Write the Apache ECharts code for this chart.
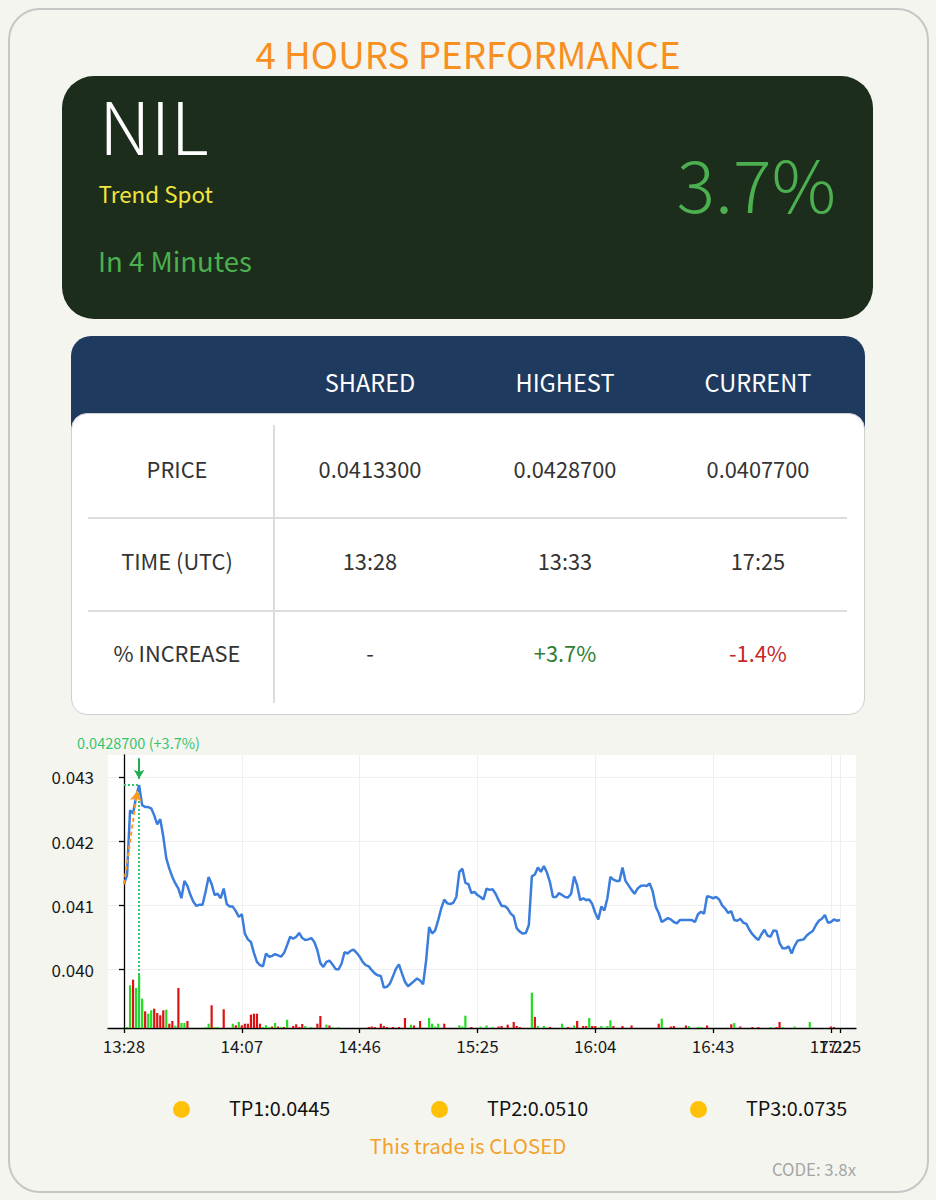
<!DOCTYPE html>
<html><head><meta charset="utf-8">
<script src="https://cdn.jsdelivr.net/npm/echarts@6/dist/echarts.min.js"></script>
<style>
html,body{margin:0;padding:0;background:#f5f5f0;}
body{width:936px;height:1200px;position:relative;overflow:hidden;font-family:"Noto Sans CJK SC","Noto Sans",sans-serif;}
.abs{position:absolute;line-height:1;white-space:nowrap;}
.box{position:absolute;box-sizing:border-box;}
#chart{position:absolute;left:0;top:0;width:936px;height:1200px;z-index:5;}
</style></head>
<body>
<div class="box" style="left:8px;top:8px;width:921px;height:1185px;border:2px solid #c6c6c6;border-radius:32px;background:#f5f5f0;"></div>
<div class="box" style="left:62px;top:76px;width:811px;height:243px;border-radius:32px;background:#1c2d1b;"></div>
<div class="box" style="left:71px;top:336px;width:794px;height:95px;border-radius:20px 20px 0 0;background:#1f3a5f;"></div>
<div class="box" style="left:71px;top:413px;width:794px;height:302px;border-radius:16px;background:#fff;border:1px solid #cfcfcf;"></div>
<div class="box" style="left:273px;top:425px;width:1.5px;height:278px;background:#dcdcdc;"></div>
<div class="box" style="left:88px;top:517px;width:759px;height:1.5px;background:#dcdcdc;"></div>
<div class="box" style="left:88px;top:610px;width:759px;height:1.5px;background:#dcdcdc;"></div>
<div class="box" style="left:108px;top:755px;width:748px;height:273px;background:#fff;z-index:2;"></div>
<div id="chart"></div>
<script>
// ---------- data ----------
const titleText = '4 HOURS PERFORMANCE';
const symbolName = 'NIL';
const subTitle = 'Trend Spot';
const durationText = 'In 4 Minutes';
const bigPercent = '3.7%';
const headerCols = ['SHARED', 'HIGHEST', 'CURRENT'];
const rowLabels = ['PRICE', 'TIME (UTC)', '% INCREASE'];
const priceRow = ['0.0413300', '0.0428700', '0.0407700'];
const timeRow = ['13:28', '13:33', '17:25'];
const pctRow = ['-', '+3.7%', '-1.4%'];
const tpLabels = ['TP1:0.0445', 'TP2:0.0510', 'TP3:0.0735'];
const statusText = 'This trade is CLOSED';
const codeText = 'CODE: 3.8x';
const peakLabel = '0.0428700 (+3.7%)';

const startTime = '13:28';
// price per minute from 13:28 to 17:25
const prices = [
0.04133,0.04147,0.04248,0.04243,0.04269,0.04287,0.04256,0.04253,0.04253,0.04251,
0.04240,0.04226,0.04234,0.04207,0.04173,0.04157,0.04144,0.04134,0.04126,0.04111,
0.04138,0.04130,0.04116,0.04105,0.04099,0.04101,0.04101,0.04121,0.04144,0.04133,
0.04116,0.04118,0.04111,0.04126,0.04102,0.04098,0.04098,0.04091,0.04082,0.04086,
0.04056,0.04047,0.04043,0.04026,0.04012,0.04007,0.04005,0.04025,0.04020,0.04021,
0.04024,0.04022,0.04020,0.04026,0.04038,0.04051,0.04048,0.04051,0.04057,0.04049,
0.04046,0.04047,0.04049,0.04043,0.04030,0.04010,0.04004,0.04012,0.04014,0.04008,
0.04001,0.04000,0.04009,0.04027,0.04025,0.04029,0.04031,0.04026,0.04020,0.04012,
0.04007,0.04005,0.03999,0.03994,0.03991,0.03990,0.03972,0.03973,0.03978,0.03989,
0.04001,0.04008,0.03994,0.03981,0.03974,0.03978,0.03982,0.03986,0.03983,0.03977,
0.04014,0.04066,0.04056,0.04061,0.04077,0.04095,0.04109,0.04103,0.04102,0.04104,
0.04113,0.04152,0.04157,0.04135,0.04133,0.04119,0.04121,0.04116,0.04113,0.04109,
0.04126,0.04124,0.04125,0.04118,0.04108,0.04099,0.04099,0.04095,0.04087,0.04083,
0.04064,0.04059,0.04056,0.04057,0.04069,0.04145,0.04148,0.04159,0.04152,0.04161,
0.04151,0.04136,0.04113,0.04113,0.04119,0.04116,0.04113,0.04112,0.04118,0.04145,
0.04131,0.04108,0.04111,0.04108,0.04109,0.04102,0.04088,0.04078,0.04098,0.04092,
0.04111,0.04144,0.04140,0.04138,0.04138,0.04159,0.04138,0.04131,0.04124,0.04118,
0.04126,0.04130,0.04131,0.04130,0.04134,0.04122,0.04098,0.04088,0.04074,0.04077,
0.04080,0.04078,0.04074,0.04072,0.04077,0.04077,0.04077,0.04077,0.04077,0.04074,
0.04086,0.04090,0.04087,0.04114,0.04113,0.04111,0.04113,0.04109,0.04100,0.04095,
0.04088,0.04091,0.04077,0.04076,0.04079,0.04073,0.04071,0.04062,0.04055,0.04050,
0.04046,0.04055,0.04062,0.04053,0.04051,0.04061,0.04060,0.04041,0.04033,0.04033,
0.04036,0.04025,0.04037,0.04045,0.04046,0.04047,0.04053,0.04057,0.04060,0.04069,
0.04076,0.04079,0.04085,0.04073,0.04074,0.04078,0.04076,0.04077
];
// volume bars [minute, volume]
const volUp = [[1,1],[2,42.7],[4,40],[5,53.3],[6,29.3],[8,14.3],[9,17.7],[14,18.3],[17,2.3],[19,5],[20,5],[27,1],[28,4.3],[30,1],[31,1],[36,4.3],[38,6],[46,1],[47,2.7],[48,1],[50,5],[52,1],[54,8.3],[60,2],[62,1],[67,3.3],[69,1],[71,1],[95,3.3],[101,10],[102,4.3],[103,1.5],[104,4.3],[111,2.7],[112,1.5],[113,12.3],[118,1.5],[120,2.5],[122,1],[135,35.3],[137,2],[139,2],[145,4.3],[149,2.5],[154,10],[158,2],[160,2],[161,7.7],[178,9.3],[187,2],[190,1],[191,1],[202,5],[214,1],[218,1],[222,1.5],[227,6]];
const volDown = [[3,48.3],[7,16.7],[10,19.3],[11,15],[12,12.7],[13,17.7],[15,4.3],[16,7],[18,40],[21,7],[29,22.7],[33,18.7],[37,2.7],[39,2.7],[40,4.3],[41,4.3],[42,13.3],[43,14.3],[44,14.3],[45,4.3],[49,1.5],[51,1.5],[53,1],[56,2],[57,3.7],[58,1],[59,4],[64,4.3],[65,12],[68,2.5],[81,1],[82,1.5],[83,1],[85,4.3],[86,2],[87,1],[89,1],[91,1],[93,10],[96,2.5],[98,7],[106,4.3],[115,1],[124,1.5],[125,2],[127,3.3],[129,6],[130,2],[131,1],[136,11],[141,1],[147,1],[150,7],[152,2],[153,2],[155,2],[156,2],[162,2],[165,2],[168,2.5],[177,4.3],[181,1.5],[182,2],[186,2.5],[193,2.5],[201,3.7],[204,1.5],[208,1],[210,1],[216,1],[217,6],[234,1.5],[235,1]];
const xTickMinutes = [0, 39, 78, 117, 156, 195, 234, 237];
const yTicks = [0.040, 0.041, 0.042, 0.043];

// ---------- html text ----------
const K = 0.936;
function txt(s, x, base, fs, o) {
  o = o || {};
  const d = document.createElement('div');
  d.className = 'abs';
  d.textContent = s;
  d.style.fontSize = fs + 'px';
  d.style.left = x + 'px';
  d.style.top = (base - K * fs) + 'px';
  if (o.align === 'center') d.style.transform = 'translateX(-50%)';
  else if (o.align === 'right') d.style.transform = 'translateX(-100%)';
  d.style.color = o.color || '#333';
  if (o.weight) d.style.fontWeight = o.weight;
  d.style.zIndex = 3;
  document.body.appendChild(d);
}
txt(titleText, 468, 69.3, 36.8, {align:'center', color:'#f7901e'});
txt(symbolName, 99, 155, 73, {color:'#ffffff', weight:300});
txt(subTitle, 98.5, 203.3, 22.4, {color:'#f2e43c'});
txt(durationText, 98, 272.7, 27.5, {color:'#4caf50'});
txt(bigPercent, 836, 213.3, 72, {align:'right', color:'#4caf50', weight:300});
const colX = [370, 565, 758];
headerCols.forEach((h, i) => txt(h, colX[i], 393.3, 23.6, {align:'center', color:'#ffffff'}));
const rowBase = [478.3, 570.7, 662.7];
rowLabels.forEach((r, i) => txt(r, 177, rowBase[i], 21.8, {align:'center', color:'#333'}));
priceRow.forEach((v, i) => txt(v, colX[i], rowBase[0], 21.8, {align:'center', color:'#333'}));
timeRow.forEach((v, i) => txt(v, colX[i], rowBase[1], 21.8, {align:'center', color:'#333'}));
const pctColors = ['#333', '#2e7d32', '#c62828'];
pctRow.forEach((v, i) => txt(v, colX[i], rowBase[2], 21.8, {align:'center', color:pctColors[i]}));
const tpDotX = [181, 439, 698];
tpLabels.forEach((t, i) => {
  const dot = document.createElement('div');
  dot.className = 'box';
  dot.style.cssText = 'left:' + (tpDotX[i] - 8.5) + 'px;top:1100.5px;width:17px;height:17px;border-radius:50%;background:#ffc107;z-index:3;';
  document.body.appendChild(dot);
  txt(t, tpDotX[i] + 48, 1116.7, 19.8, {color:'#111'});
});
txt(statusText, 468, 1154, 20.5, {align:'center', color:'#f3a12b'});
txt(codeText, 856, 1176.7, 16.8, {align:'right', color:'#a5a5a5'});
txt(peakLabel, 77, 749.5, 14.5, {color:'#35c46e'});

// ---------- chart ----------
const sh = parseInt(startTime.split(':')[0], 10), sm = parseInt(startTime.split(':')[1], 10);
function fmtTime(m) {
  const t = sh * 60 + sm + Math.round(m);
  return String(Math.floor(t / 60)).padStart(2, '0') + ':' + String(t % 60).padStart(2, '0');
}
const lineData = prices.map((p, i) => [i, p]);
let peakI = 0;
prices.forEach((p, i) => { if (p > prices[peakI]) peakI = i; });
const peakP = prices[peakI];
const yMin = 0.03909, yMax = 0.04334;
const xMin = -5.3, xMax = 242.3;
const dotGreen = '#35c46e';
const axisFont = {color:'#1a1a1a', fontFamily:'Noto Sans CJK SC', fontSize:17};
const lastTick = xTickMinutes[xTickMinutes.length - 1];

const chart = echarts.init(document.getElementById('chart'), null, {renderer:'svg', width:936, height:1200});
chart.setOption({
  animation: false,
  backgroundColor: 'transparent',
  grid: {left:108, top:755, width:748, height:273, show:false},
  xAxis: [{
    type:'value', min:xMin, max:xMax, position:'bottom', offset:0,
    axisLine:{show:true, lineStyle:{color:'#000', width:1.3}},
    axisTick:{show:true, customValues:xTickMinutes, length:5, lineStyle:{color:'#000', width:1.3}},
    axisLabel:Object.assign({customValues:xTickMinutes.slice(0, -1), formatter:v => fmtTime(v), margin:9, hideOverlap:false}, axisFont),
    splitLine:{show:true, lineStyle:{color:'#efefef', width:1}}
  }, {
    type:'value', min:xMin, max:xMax, position:'bottom', offset:0,
    axisLine:{show:false}, axisTick:{show:false}, splitLine:{show:false},
    axisLabel:Object.assign({customValues:[lastTick], formatter:v => fmtTime(v), margin:9, hideOverlap:false}, axisFont)
  }],
  yAxis: [{
    type:'value', min:yMin, max:yMax,
    axisLine:{show:true, lineStyle:{color:'#000', width:1.3}},
    axisTick:{show:true, customValues:yTicks, length:5, lineStyle:{color:'#000', width:1.3}},
    axisLabel:Object.assign({customValues:yTicks, formatter:v => v.toFixed(3), margin:14}, axisFont),
    splitLine:{show:true, lineStyle:{color:'#efefef', width:1}}
  }, {
    type:'value', min:0, max:272.7, show:false, splitLine:{show:false}
  }],
  series: [
    {type:'bar', yAxisIndex:1, data:volUp, barWidth:2.2, barGap:'-100%', itemStyle:{color:'#22dd22'}, z:2},
    {type:'bar', yAxisIndex:1, data:volDown, barWidth:2.2, barGap:'-100%', itemStyle:{color:'#dd1111'}, z:2},
    {type:'line', data:lineData, showSymbol:false, symbol:'none', lineStyle:{color:'#3b7ddd', width:2.5}, z:4,
     markLine:{silent:true, animation:false, label:{show:false}, emphasis:{disabled:true},
       data:[
         [{coord:[peakI, peakP - 0.00012], symbol:'none', lineStyle:{color:dotGreen, type:'dotted', width:2}}, {coord:[peakI, yMin], symbol:'none'}],
         [{coord:[0, peakP], symbol:'none', lineStyle:{color:dotGreen, type:'dotted', width:2}}, {coord:[peakI, peakP], symbol:'none'}],
         [{coord:[peakI, yMax - 0.00005], symbol:'none', lineStyle:{color:'#1fae4f', type:'solid', width:2}}, {coord:[peakI, peakP + 0.00010], symbol:'arrow', symbolSize:[8, 9]}],
         [{coord:[0, prices[0]], symbol:'none', lineStyle:{color:'#ff9a1f', type:[4, 3], width:2}}, {coord:[peakI - 0.6, peakP - 0.00009], symbol:'arrow', symbolSize:[9, 10]}]
       ]}}
  ]
});
</script>
</body></html>
